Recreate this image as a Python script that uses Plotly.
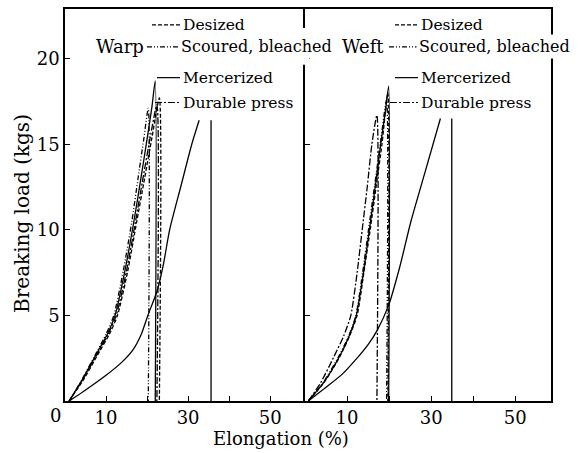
import plotly.graph_objects as go

# ---------------- data ----------------
series_names = ["Desized", "Scoured, bleached", "Mercerized", "Durable press"]
y_ticks = [5, 10, 15, 20]
x_tickvals = [10, 20, 30, 40, 50]
x_ticktext = ["10", "", "30", "", "50"]

# Warp panel
warp_desized_x = [1, 4.4, 8.2, 10.8, 12.8, 15.3, 17.5, 19.4, 21.2, 23.0, 23.0]
warp_desized_y = [0, 1.2, 2.8, 3.9, 5.0, 7.6, 10.5, 13.0, 15.4, 17.7, 0]
warp_scoured_x = [1, 4.0, 7.6, 10.0, 11.9, 14.2, 16.3, 17.8, 19.2, 20.3, 20.3]
warp_scoured_y = [0, 1.2, 2.8, 3.9, 5.0, 7.6, 10.5, 13.0, 15.3, 17.1, 0]
warp_merc_x = [1, 4.1, 7.8, 10.3, 12.2, 14.6, 16.8, 18.5, 20.0, 21.2, 22.0, 22.0]
warp_merc_y = [0, 1.2, 2.8, 3.9, 5.0, 7.6, 10.5, 13.0, 15.3, 17.2, 18.7, 0]
warp_dp_x = [1, 4.2, 8.0, 10.5, 12.5, 15.0, 17.2, 19.0, 20.7, 22.4, 22.4]
warp_dp_y = [0, 1.2, 2.8, 3.9, 5.0, 7.6, 10.5, 13.0, 15.3, 17.3, 0]
warp_slow_x = [1, 4.4, 10.0, 14.0, 16.6, 18.6, 20.2, 22.4, 24.0, 25.5, 28.2, 30.9, 32.7, None, 35.6, 35.6]
warp_slow_y = [0, 0.54, 1.5, 2.3, 3.0, 3.9, 5.0, 6.4, 8.0, 10.0, 12.5, 15.0, 16.4, None, 16.4, 0]

# Weft panel
weft_desized_x = [0.8, 4.6, 8.3, 10.6, 12.4, 14.0, 15.5, 16.9, 18.3, 19.7, 19.7]
weft_desized_y = [0, 1.1, 2.6, 3.8, 5.0, 7.5, 10.0, 12.5, 15.0, 18.0, 0]
weft_scoured_x = [0.8, 4.4, 8.0, 10.4, 12.1, 13.7, 15.1, 16.5, 17.9, 19.4, 19.4]
weft_scoured_y = [0, 1.1, 2.6, 3.8, 5.0, 7.5, 10.0, 12.5, 15.0, 17.6, 0]
weft_merc_x = [0.8, 4.5, 8.2, 10.5, 12.2, 13.9, 15.3, 16.7, 18.0, 19.1, 19.9, 19.9]
weft_merc_y = [0, 1.1, 2.6, 3.8, 5.0, 7.5, 10.0, 12.5, 15.0, 16.9, 18.4, 0]
weft_dp_x = [0.8, 3.8, 6.9, 9.2, 10.9, 12.4, 13.6, 14.8, 15.9, 17.1, 17.1]
weft_dp_y = [0, 1.1, 2.6, 3.8, 5.0, 7.5, 10.0, 12.5, 15.0, 16.7, 0]
weft_slow_x = [0.8, 5.0, 9.0, 12.0, 15.0, 17.1, 19.9, 22.5, 25.2, 28.7, 32.2, None, 34.9, 34.9]
weft_slow_y = [0, 0.8, 1.6, 2.4, 3.3, 4.1, 5.6, 7.8, 10.5, 13.5, 16.5, None, 16.5, 0]

# ---------------- styling ----------------
FONT = "DejaVu Serif"
DASHES = {
    "Desized": "4px,2px",
    "Scoured, bleached": "5px,2px,1px,2px,1px,2px",
    "Mercerized": "solid",
    "Durable press": "7px,2px,2px,2px",
}
W, H = 578, 453
L, R, T, B = 65, 551, 7, 401   # plot area in pixels
SPLIT = 305


def px(x):
    return (x - L) / (R - L)


def py(y):
    return (B - y) / (B - T)


fig = go.Figure()

panels = [
    ("x", "y", [(series_names[0], warp_desized_x, warp_desized_y),
                (series_names[1], warp_scoured_x, warp_scoured_y),
                (series_names[2], warp_merc_x, warp_merc_y),
                (series_names[3], warp_dp_x, warp_dp_y),
                (series_names[2], warp_slow_x, warp_slow_y)]),
    ("x2", "y2", [(series_names[0], weft_desized_x, weft_desized_y),
                  (series_names[1], weft_scoured_x, weft_scoured_y),
                  (series_names[2], weft_merc_x, weft_merc_y),
                  (series_names[3], weft_dp_x, weft_dp_y),
                  (series_names[2], weft_slow_x, weft_slow_y)]),
]
for xa, ya, curves in panels:
    for name, xs, ys in curves:
        fig.add_trace(go.Scatter(
            x=xs, y=ys, mode="lines", name=name, showlegend=False,
            xaxis=xa, yaxis=ya, connectgaps=False,
            line=dict(color="black", width=1.3, dash=DASHES[name], shape="spline", smoothing=0.6),
        ))

axis_common = dict(
    showline=True, linecolor="black", linewidth=1.6,
    showgrid=False, zeroline=False, ticks="inside", ticklen=5,
    tickcolor="black", tickfont=dict(family=FONT, size=18, color="black"),
)
split = px(SPLIT)
fig.update_layout(
    width=W, height=H, autosize=False,
    margin=dict(l=L, r=W - R, t=T, b=H - B),
    paper_bgcolor="white", plot_bgcolor="white",
    xaxis=dict(domain=[0, split], range=[0, 58.5], anchor="y", mirror=True,
               tickvals=x_tickvals, ticktext=x_ticktext, **axis_common),
    xaxis2=dict(domain=[split, 1], range=[0, 58.5], anchor="y2", mirror=True,
                tickvals=x_tickvals, ticktext=x_ticktext, **axis_common),
    yaxis=dict(domain=[0, 1], range=[0, 22.9], anchor="x", mirror=False,
               tickvals=y_ticks, **axis_common),
    yaxis2=dict(domain=[0, 1], range=[0, 22.9], anchor="x2", matches="y", mirror=True,
                tickvals=y_ticks, showticklabels=False, **axis_common),
    showlegend=False,
)

annotations = []
shapes = []


def label(text, x, y, size, xanchor="center", **kw):
    return dict(text=text, x=px(x), y=py(y), xref="paper", yref="paper",
                xanchor=xanchor, yanchor="middle", showarrow=False,
                font=dict(family=FONT, size=size, color="black"), **kw)


# Axis titles and the corner zero
annotations.append(label("Elongation (%)", 281, 439, 18))
annotations.append(label("Breaking load (kgs)", 22, 213, 20, textangle=-90))
annotations.append(label("0", 55, 416, 18))

# Gap in the panel divider behind the long label (as in the reference)
shapes.append(dict(type="rect", xref="paper", yref="paper", layer="above",
                   x0=px(SPLIT - 4), x1=px(SPLIT + 4), y0=py(63), y1=py(26),
                   fillcolor="white", line=dict(width=0)))

# Panel titles
for text, cx in (("Warp", 120), ("Weft", 363)):
    annotations.append(label(text, cx, 45, 18, bgcolor="white", borderpad=1))

# Legend-like labels for each panel
legend_rows = [  # (name, y pixel)
    (series_names[0], 23),
    (series_names[1], 45),
    (series_names[2], 76),
    (series_names[3], 101),
]
legend_cols = [  # (line start x per row, text x)
    ([152, 147, 157, 155], 181),
    ([395, 389, 395, 390], 419),
]
PAD = 2
for starts, tx in legend_cols:
    for (name, ypx), sx in zip(legend_rows, starts):
        shapes.append(dict(type="line", xref="paper", yref="paper",
                           x0=px(sx), x1=px(tx - 1), y0=py(ypx), y1=py(ypx),
                           line=dict(color="black", width=1.2, dash=DASHES[name])))
        if name == "Scoured, bleached":
            annotations.append(label(name, tx - PAD - 1, ypx, 16, xanchor="left",
                                     bgcolor="white", borderpad=PAD))
        else:
            annotations.append(label(name, tx, ypx, 15.5, xanchor="left"))

fig.update_layout(annotations=annotations, shapes=shapes)
fig.write_html("out.html", config={"displayModeBar": False},
               post_script="document.body.style.margin='0';")
